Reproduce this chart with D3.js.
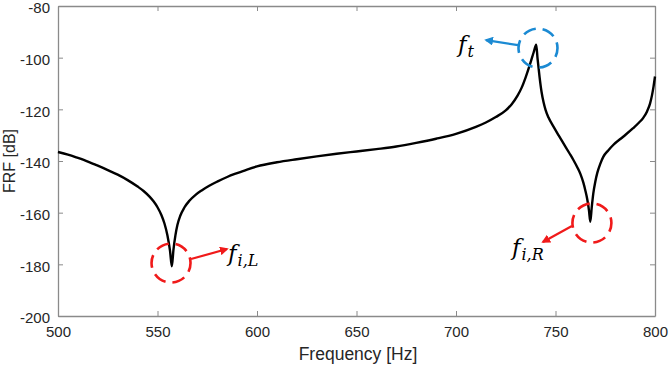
<!DOCTYPE html>
<html>
<head>
<meta charset="utf-8">
<script src="https://cdn.jsdelivr.net/npm/d3@7"></script>
<style>
  html, body { margin: 0; padding: 0; background: #fff; }
  svg { display: block; }
</style>
</head>
<body>
<svg id="chart" width="671" height="365"></svg>
<script>
// ---- data ----
const freq = [500,505,510,515,520,525,530,535,540,543,546,548,550,552,553.5,555,556.3,557.2,558,559,560,561.5,563.5,566,569,572,576,580,585,590,595,600,610,620,630,640,650,660,670,680,690,700,710,715,720,725,728,731,733,735,737,739,740.3,741,742,743,744,745,746.5,749,751.5,754,757,759,761,762.5,764,765,766,766.8,767.5,768.2,769,770,771,772.5,774,776.5,779,784,789,792,794,796,797.5,798.5,799.3,800];
const frf  = [-136.5,-137.5,-138.8,-140.2,-141.8,-143.5,-145.3,-147.4,-149.9,-151.6,-153.8,-155.6,-157.9,-161.0,-164.2,-168.8,-174.8,-180.8,-174.5,-168.8,-164.8,-161.1,-158.0,-155.4,-153.2,-151.5,-149.6,-148.0,-146.2,-144.7,-143.3,-142.1,-140.5,-139.3,-138.2,-137.2,-136.3,-135.4,-134.4,-133.0,-131.4,-129.5,-126.8,-125.1,-123.0,-120.4,-118.0,-114.6,-111.6,-107.6,-103.0,-98.0,-95.0,-100.5,-107.5,-113.3,-117.3,-120.2,-123.2,-126.7,-130.0,-133.2,-137.0,-139.6,-142.5,-145.0,-148.4,-151.4,-155.0,-159.0,-163.5,-158.0,-152.5,-148.0,-144.6,-141.1,-138.4,-135.9,-133.8,-130.6,-127.3,-125.1,-123.4,-120.8,-117.8,-114.5,-111.0,-107.3];
const xTicks = [500,550,600,650,700,750,800];
const yTicks = [-80,-100,-120,-140,-160,-180,-200];
const xLabel = "Frequency [Hz]";
const yLabel = "FRF [dB]";
// marked points: [freq, dB]
const markT  = [741.2, -96.3];
const markIL = [556.8, -179.5];
const markIR = [768.3, -164];

// ---- layout ----
const svg = d3.select("#chart");
const L = 58, R = 655, T = 6, B = 316;
const x = d3.scaleLinear().domain([500, 800]).range([L, R]);
const y = d3.scaleLinear().domain([-200, -80]).range([B, T]);
const axisCol = "#8a8a8a", textCol = "#262626";
const fmt = d => String(d);

// axes (ticks inward), box
const gx = svg.append("g").attr("transform", `translate(0,${B})`)
  .call(d3.axisBottom(x).tickValues(xTicks).tickFormat(fmt).tickSizeInner(-5).tickSizeOuter(0).tickPadding(10));
const gxTop = svg.append("g").attr("transform", `translate(0,${T})`)
  .call(d3.axisTop(x).tickValues(xTicks).tickSizeInner(-5).tickSizeOuter(0).tickFormat(""));
const gy = svg.append("g").attr("transform", `translate(${L},0)`)
  .call(d3.axisLeft(y).tickValues(yTicks).tickFormat(fmt).tickSizeInner(-5).tickSizeOuter(0).tickPadding(8));
const gyR = svg.append("g").attr("transform", `translate(${R},0)`)
  .call(d3.axisRight(y).tickValues(yTicks).tickSizeInner(-5).tickSizeOuter(0).tickFormat(""));
[gx, gxTop, gy, gyR].forEach(g => {
  g.select(".domain").attr("stroke", axisCol).attr("stroke-width", 1.3);
  g.selectAll(".tick line").attr("stroke", axisCol).attr("stroke-width", 1);
  g.selectAll(".tick text").attr("fill", textCol)
    .style("font-family", "'Liberation Sans', Arial, sans-serif").style("font-size", "15px");
});
gx.selectAll(".tick text").attr("dy", "0.71em");
gy.selectAll(".tick text").attr("dy", "0.45em");

// axis labels
svg.append("text").attr("x", 358).attr("y", 360)
  .attr("text-anchor", "middle").attr("fill", textCol)
  .style("font-family", "'Liberation Sans', Arial, sans-serif").style("font-size", "17.5px")
  .text(xLabel);
svg.append("text").attr("transform", `translate(15,${(T + B) / 2}) rotate(-90)`)
  .attr("text-anchor", "middle").attr("fill", textCol)
  .style("font-family", "'Liberation Sans', Arial, sans-serif").style("font-size", "16px")
  .text(yLabel);

// curve
const line = d3.line().x((d, i) => x(freq[i])).y((d, i) => y(frf[i])).curve(d3.curveMonotoneX);
svg.append("path").datum(frf).attr("d", line)
  .attr("fill", "none").attr("stroke", "#000").attr("stroke-width", 2.4)
  .attr("stroke-linejoin", "round");

// annotations
const defs = svg.append("defs");
function marker(id, col) {
  defs.append("marker").attr("id", id).attr("viewBox", "0 0 10 10")
    .attr("refX", 8).attr("refY", 5).attr("markerWidth", 4).attr("markerHeight", 4)
    .attr("orient", "auto-start-reverse")
    .append("path").attr("d", "M0,0 L10,5 L0,10 z").attr("fill", col);
}
const blue = "#1b8ad3", red = "#f01a1a";
marker("arrB", blue); marker("arrR", red);

function annot(pt, col, arrId, dx1, dy1, dx2, dy2, lx, ly, sub) {
  const cx = x(pt[0]), cy = y(pt[1]);
  svg.append("circle").attr("cx", cx).attr("cy", cy).attr("r", 19.5)
    .attr("fill", "none").attr("stroke", col).attr("stroke-width", 2.6)
    .attr("stroke-dasharray", "13,7").attr("stroke-dashoffset", 4);
  svg.append("line").attr("x1", cx + dx1).attr("y1", cy + dy1)
    .attr("x2", cx + dx2).attr("y2", cy + dy2)
    .attr("stroke", col).attr("stroke-width", 2.2).attr("marker-end", `url(#${arrId})`);
  const t = svg.append("text").attr("x", cx + lx).attr("y", cy + ly)
    .style("font-family", "'DejaVu Serif', 'Liberation Serif', serif").style("font-style", "italic")
    .attr("fill", "#000");
  t.append("tspan").style("font-size", "23px").text("f");
  t.append("tspan").style("font-size", "16px").attr("dx", 1).attr("dy", 5).text(sub);
}
annot(markT, blue, "arrB", -20, -3, -52, -8, -80, 4, "t");
annot(markIL, red, "arrR", 20, -4, 56, -14, 57, -2, "i,L");
annot(markIR, red, "arrR", -20, 3, -49, 19, -80, 32, "i,R");
</script>
</body>
</html>
